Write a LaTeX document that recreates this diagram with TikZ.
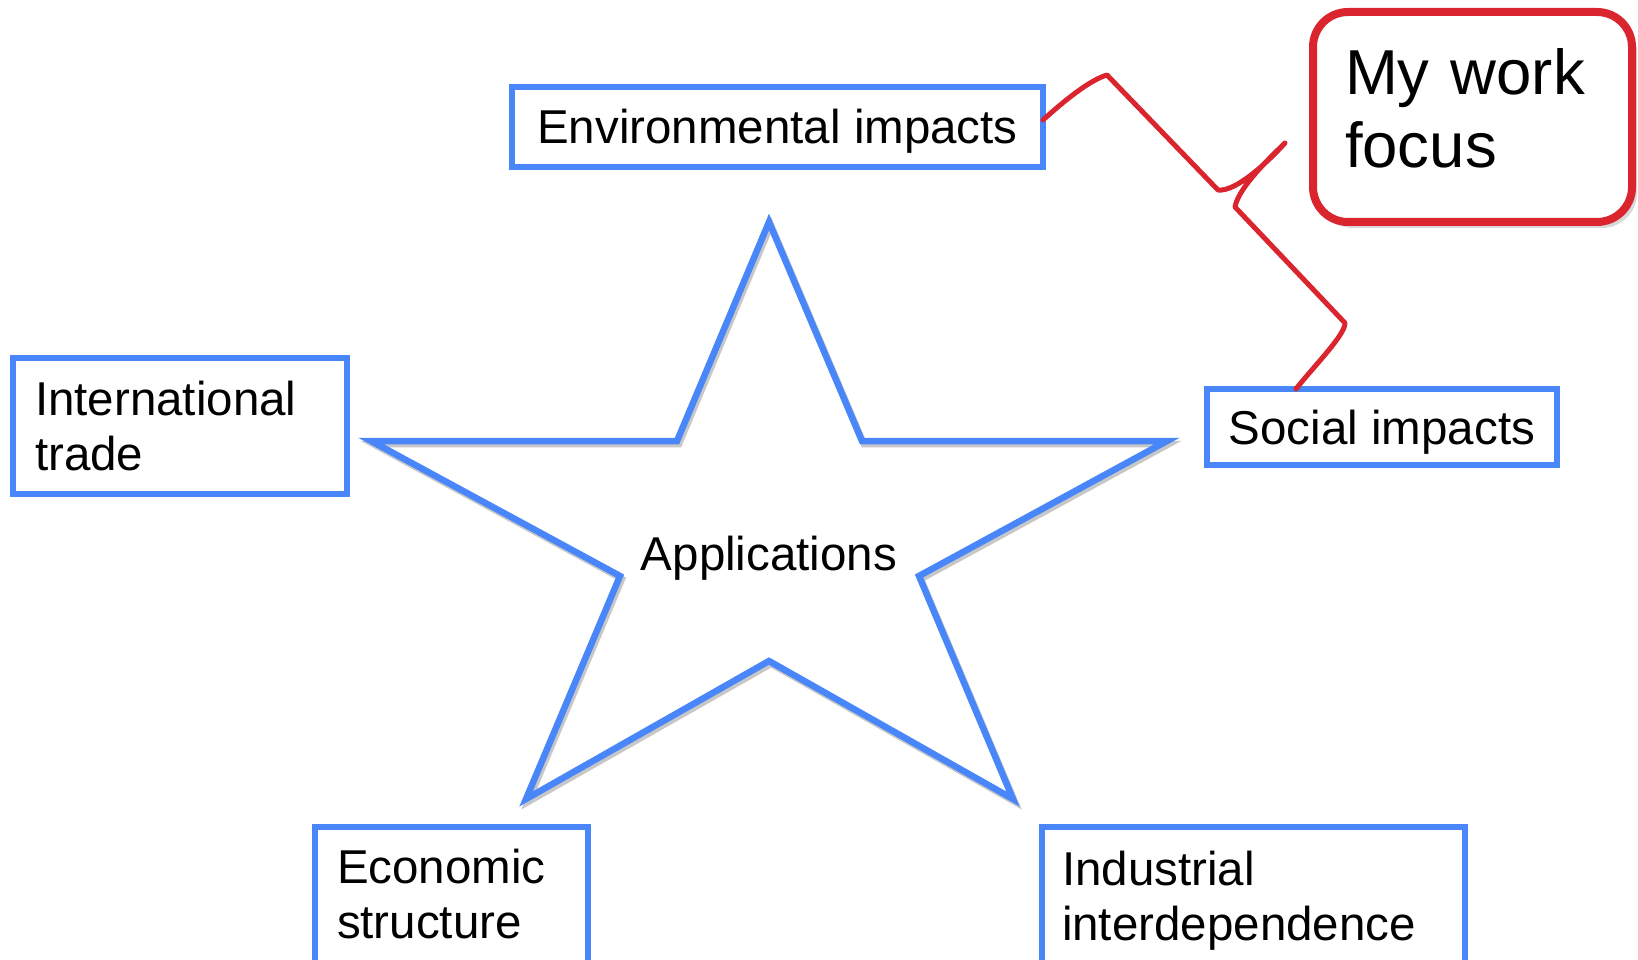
\documentclass[tikz,border=0pt]{standalone}
\usepackage{fontspec}
\setmainfont{Liberation Sans}
\usepackage{xcolor}
\usepackage{tikz}
\usetikzlibrary{calc}
\usetikzlibrary{shadows}
\definecolor{boxblue}{RGB}{72,134,250}
\definecolor{focusred}{RGB}{218,36,46}

\begin{document}
\begin{tikzpicture}[x=1pt, y=-1pt,
    box/.style={draw=boxblue, line width=6pt, fill=white, inner xsep=22pt, inner ysep=0pt,
        outer sep=0pt, align=left, font=\fontsize{47.5}{55}\selectfont},
    focusbox/.style={draw=focusred, line width=8pt, rounded corners=35pt, fill=white,
        drop shadow={shadow xshift=5pt, shadow yshift=-6pt, opacity=0.3},
        inner xsep=32pt, inner ysep=0pt, outer sep=0pt, align=left,
        font=\fontsize{63.5}{73}\selectfont}]
        %BOUNDS
        \useasboundingbox (0,0) rectangle (1638,960);
        \clip (0,0) rectangle (1638,960);

        %STAR
        \draw[black!22, line width=6.5pt, shift={(2,3)}] (769,222) -- (862,441) -- (1167,441) -- (919,576)
            -- (1013,799) -- (769,661) -- (526,799) -- (620,576) -- (371,441) -- (677,441) -- cycle;
        \draw[boxblue, line width=6.5pt] (769,222) -- (862,441) -- (1167,441) -- (919,576)
            -- (1013,799) -- (769,661) -- (526,799) -- (620,576) -- (371,441) -- (677,441) -- cycle;
        \node[font=\fontsize{47.5}{55}\selectfont, text height=34pt, text depth=0pt] (apps) at (769,553) {Applications};

        %BOXES
        \node[box, minimum width=531pt, minimum height=80pt, text height=34pt, text depth=0pt] (env) at (777.5,127) {Environmental impacts};
        \node[box, text width=290pt, minimum height=136pt, text height=34pt, text depth=55pt] (intl) at (180,426) {International\\trade};
        \node[box, minimum width=348pt, minimum height=76pt, text height=34pt, text depth=0pt] (social) at (1382,427) {Social impacts};
        \node[box, anchor=north west, text width=229pt, text height=56pt, text depth=140pt] (econ) at (315,827) {Economic\\structure};
        \node[box, anchor=north west, inner xsep=20pt, text width=383pt, text height=58pt, text depth=140pt] (indus) at (1042,827) {Industrial\\interdependence};

        %FOCUS
        \node[focusbox, anchor=north west, text width=255pt, text height=83pt, text depth=127pt] (focus) at (1313,12) {My work\\focus};

        %BRACE
        \draw[focusred, line width=5pt, line join=round, line cap=round] ([yshift=7pt]env.east)
            .. controls (1065,100) and (1090,80) .. (1107,75) -- (1218,190)
            .. controls (1235,192) and (1265,165) .. (1285,143)
            .. controls (1262,165) and (1238,190) .. (1235,207) -- (1345,323)
            .. controls (1345,335) and (1315,365) .. ([xshift=89pt]social.north west);
    \end{tikzpicture}
\end{document}
